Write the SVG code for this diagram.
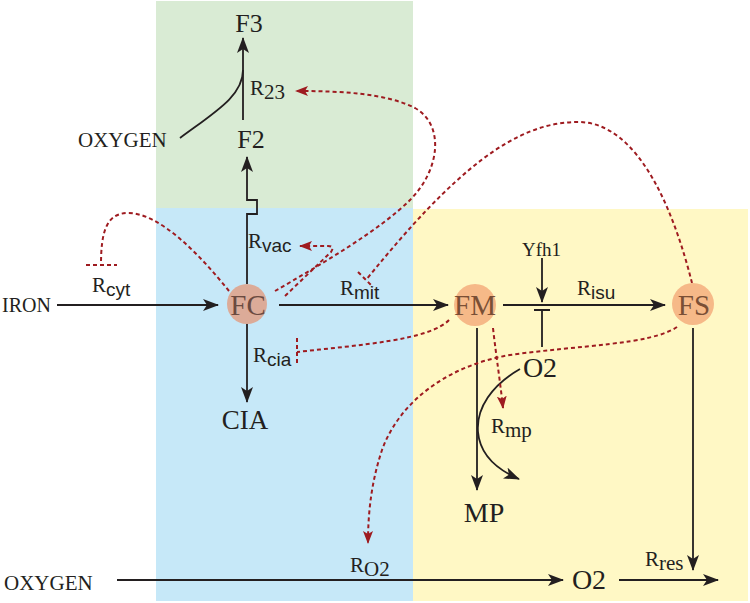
<svg xmlns="http://www.w3.org/2000/svg" width="750" height="603" viewBox="0 0 750 603">
<defs>
<style>
.bk{fill:none;stroke:#231f20;stroke-width:1.8}
.rd{fill:none;stroke:#9e1b20;stroke-width:2;stroke-dasharray:4 3}
.t{font-family:"Liberation Serif","Times New Roman",serif;fill:#231f20}
.r{font-family:"Liberation Serif","Times New Roman",serif;font-size:21px;fill:#231f20}
.ss{font-family:"Liberation Sans",Arial,sans-serif;font-size:19px}
.sr{font-size:21px}
.nt{font-family:"Liberation Serif","Times New Roman",serif;font-size:29px;text-anchor:middle}
</style>
<marker id="ab" viewBox="0 0 16 12" refX="15" refY="6" markerWidth="16" markerHeight="12" markerUnits="userSpaceOnUse" orient="auto">
<path d="M0,0 L16,6 L0,12 L4,6 z" fill="#231f20"/>
</marker>
<marker id="ar" viewBox="0 0 13 10" refX="12" refY="5" markerWidth="13" markerHeight="10" markerUnits="userSpaceOnUse" orient="auto">
<path d="M0,0 L13,5 L0,10 L3,5 z" fill="#9e1b20"/>
</marker>
</defs>
<g id="regions">
<rect x="156" y="1" width="257" height="208" fill="#d9ebd4"/>
<rect x="156" y="208" width="257" height="393" fill="#c6e8f8"/>
<rect x="413" y="209" width="335" height="392" fill="#fff8c5"/>
</g>
<g id="connectors">
<path class="bk" d="M57,305 L218,305" marker-end="url(#ab)"/>
<path class="bk" d="M279,305 L448,305" marker-end="url(#ab)"/>
<path class="bk" d="M503,305 L665,305" marker-end="url(#ab)"/>
<path class="bk" d="M542,258 L542,302" marker-end="url(#ab)"/>
<path class="bk" d="M542,347 L542,310 M534,310 L550,310"/>
<path class="bk" d="M477,328 L477,490" marker-end="url(#ab)"/>
<path class="bk" d="M520,369 C492,385 476,408 478,432 C480,455 498,470 519,479" marker-end="url(#ab)"/>
<path class="bk" d="M693,328 L693,570" marker-end="url(#ab)"/>
<path class="bk" d="M619,580 L718,580" marker-end="url(#ab)"/>
<path class="bk" d="M117,580 L563,580" marker-end="url(#ab)"/>
<path class="bk" d="M247,323 L247,402" marker-end="url(#ab)"/>
<path class="bk" d="M247,284 L247,214 L257,214 L257,200 L247,200 L247,157" marker-end="url(#ab)"/>
<path class="bk" d="M243,120 L243,38" marker-end="url(#ab)"/>
<path class="bk" d="M180,138 C215,112 243,96 243,70"/>
<path class="rd" d="M229,291 C200,255 160,213 128,213 C105,213 101,235 101,265 M86,265 L117,265"/>
<path class="rd" d="M285,296 L331,252 Q335,246 328,246 L300,246" marker-end="url(#ar)"/>
<path class="rd" d="M275,291 C320,265 380,230 410,200 C440,170 445,125 415,108 C385,93 340,91 296,91" marker-end="url(#ar)"/>
<path class="rd" d="M692,283 C675,215 640,122 578,122 C515,122 455,170 366,280 M358,272 L373,287"/>
<path class="rd" d="M449,320 C430,340 360,345 297,352 M297,338 L297,366"/>
<path class="rd" d="M493,328 C496,355 500,380 503,408" marker-end="url(#ar)"/>
<path class="rd" d="M677,327 C650,345 580,345 510,355 C450,365 400,400 382,450 C372,480 368,510 368,543" marker-end="url(#ar)"/>
</g>
<g id="FC">
<circle cx="247" cy="304" r="20" fill="#dcab98"/>
<text class="nt" x="248" y="315" fill="#6b4a40">FC</text>
</g>
<g id="FM">
<circle cx="475" cy="305" r="21" fill="#f6b988"/>
<text class="nt" x="475" y="315" fill="#7a4f35">FM</text>
</g>
<g id="FS">
<circle cx="693" cy="304" r="21" fill="#f6b988"/>
<text class="nt" x="694" y="315" fill="#7a4f35">FS</text>
</g>
<g id="F3"><text class="t" x="249" y="32" font-size="26" text-anchor="middle">F3</text></g>
<g id="F2"><text class="t" x="251" y="148" font-size="26" text-anchor="middle">F2</text></g>
<g id="CIA"><text class="t" x="245" y="429" font-size="27" text-anchor="middle">CIA</text></g>
<g id="MP"><text class="t" x="484" y="522" font-size="28" text-anchor="middle">MP</text></g>
<g id="O2mid"><text class="t" x="540" y="377" font-size="28" text-anchor="middle">O2</text></g>
<g id="O2bot"><text class="t" x="589" y="589" font-size="28" text-anchor="middle">O2</text></g>
<g id="IRON"><text class="t" x="2" y="312" font-size="20">IRON</text></g>
<g id="OXYGENtop"><text class="t" x="78" y="147" font-size="21">OXYGEN</text></g>
<g id="OXYGENbot"><text class="t" x="4" y="590" font-size="21">OXYGEN</text></g>
<g id="Yfh1"><text class="t" x="522" y="256" font-size="19">Yfh1</text></g>
<g id="labels">
<text class="r" x="92" y="292">R<tspan class="ss" dy="4">cyt</tspan></text>
<text class="r" x="248" y="248">R<tspan class="ss" dy="4">vac</tspan></text>
<text class="r" x="340" y="295">R<tspan class="ss" dy="4">mit</tspan></text>
<text class="r" x="253" y="362">R<tspan class="ss" dy="4">cia</tspan></text>
<text class="r" x="577" y="295">R<tspan class="ss" dy="4">isu</tspan></text>
<text class="r" x="250" y="95">R<tspan class="sr" dy="4">23</tspan></text>
<text class="r" x="491" y="433">R<tspan class="sr" dy="4">mp</tspan></text>
<text class="r" x="645" y="566">R<tspan class="sr" dy="4">res</tspan></text>
<text class="r" x="350" y="572">R<tspan class="sr" dy="4">O2</tspan></text>
</g>
</svg>
